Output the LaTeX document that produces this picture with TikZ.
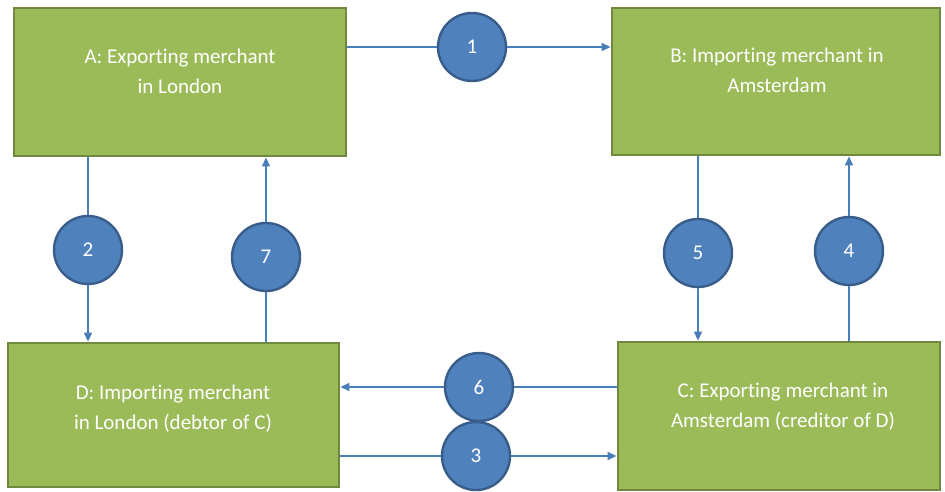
\documentclass[tikz,border=0pt]{standalone}
\usepackage{fontspec}
\setmainfont{Carlito}[Ligatures={NoCommon}]
\usetikzlibrary{arrows.meta}
\definecolor{boxfill}{HTML}{9BBB59}
\definecolor{boxline}{HTML}{71893F}
\definecolor{circfill}{HTML}{4F81BD}
\definecolor{circline}{HTML}{385D8A}
\definecolor{conn}{HTML}{4A7EBB}
\tikzset{
  greenbox/.style={draw=boxline, line width=2.8pt, fill=boxfill, rectangle, inner sep=0pt},
  boxtext/.style={text=white, align=center, font=\fontsize{21}{30}\selectfont},
  numcirc/.style={circle, draw=circline, line width=2.4pt, fill=circfill, minimum size=68pt, inner sep=0pt, text=white, font=\fontsize{21}{24}\selectfont},
  link/.style={draw=conn, line width=1.3pt},
  arr/.style={link, -{Triangle[length=9pt,width=8pt]}}
}
\begin{document}
\begin{tikzpicture}[x=1pt,y=-1pt]
\useasboundingbox (0,0) rectangle (945,492);
% boxes
\node[greenbox, minimum width=332pt, minimum height=148pt] (A) at (180,82) {};
\node[greenbox, minimum width=328pt, minimum height=147pt] (B) at (776,81.5) {};
\node[greenbox, minimum width=331pt, minimum height=144pt] (D) at (173.5,415) {};
\node[greenbox, minimum width=322pt, minimum height=148pt] (C) at (779,416) {};
\node[boxtext] (tA) at (180,71) {A: Exporting merchant\\in London};
\node[boxtext] (tB) at (777,70) {B: Importing merchant in\\Amsterdam};
\node[boxtext] (tD) at (173,409) {D: Importing merchant\\in London (debtor of C)};
\node[boxtext] (tC) at (783,407) {C: Exporting merchant in\\Amsterdam (creditor of D)};
% circles
\node[numcirc] (c1) at (472,47) {1};
\node[numcirc] (c2) at (88,250) {2};
\node[numcirc] (c7) at (266,257) {7};
\node[numcirc] (c5) at (698,253) {5};
\node[numcirc] (c4) at (849,251) {4};
\node[numcirc] (c6) at (479,387) {6};
\node[numcirc] (c3) at (476,456) {3};
% connectors
\draw[link] (c1.west -| A.east) -- (c1.west);
\draw[arr] (c1.east) -- (c1.east -| B.west);
\draw[link] (c2.north |- A.south) -- (c2.north);
\draw[arr] (c2.south) -- (c2.south |- D.north);
\draw[link] (c7.south |- D.north) -- (c7.south);
\draw[arr] (c7.north) -- (c7.north |- A.south);
\draw[link] (c5.north |- B.south) -- (c5.north);
\draw[arr] (c5.south) -- (c5.south |- C.north);
\draw[link] (c4.south |- C.north) -- (c4.south);
\draw[arr] (c4.north) -- (c4.north |- B.south);
\draw[link] (c6.east -| C.west) -- (c6.east);
\draw[arr] (c6.west) -- (c6.west -| D.east);
\draw[link] (c3.west -| D.east) -- (c3.west);
\draw[arr] (c3.east) -- (c3.east -| C.west);
\end{tikzpicture}
\end{document}
